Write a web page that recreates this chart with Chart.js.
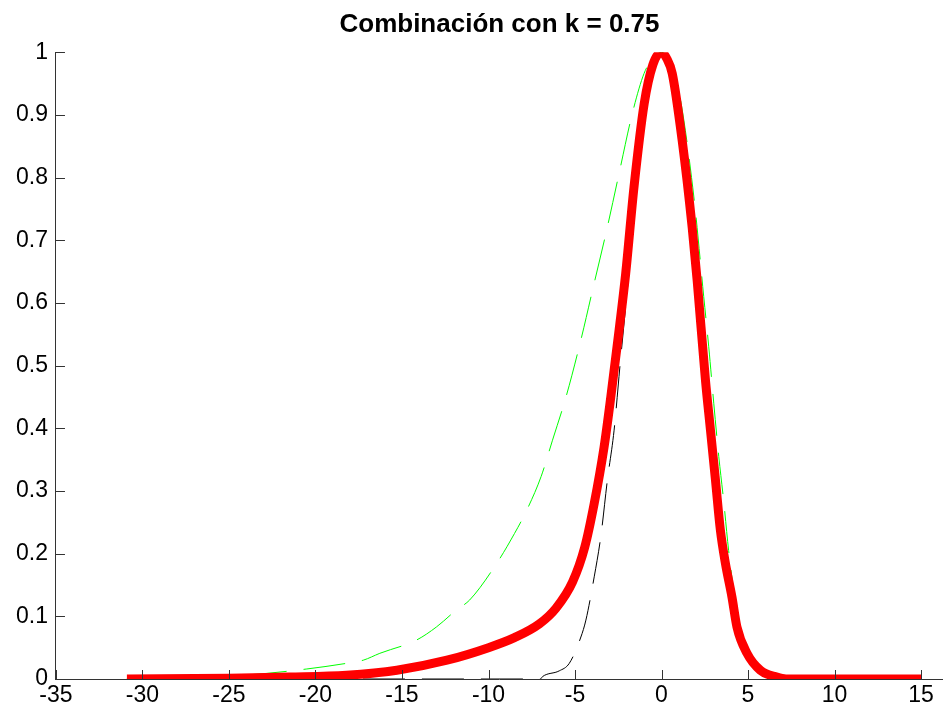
<!DOCTYPE html>
<html>
<head>
<meta charset="utf-8">
<script src="https://cdn.jsdelivr.net/npm/chart.js@4"></script>
<style>
  html, body { margin: 0; padding: 0; background: #fff; }
  #wrap { width: 943px; height: 712px; }
</style>
</head>
<body>
<div id="wrap"><canvas id="chart"></canvas></div>
<script>
// values
const redX = [-30.9, -25, -21.5, -18.2, -15.3, -12.4, -10, -8.5, -7.06, -6.1, -5.14, -4.44, -3.89, -3.32, -2.93, -2.45, -2.07, -1.59, -1.0, -0.5, 0, 0.3, 0.62, 1.19, 1.77, 2.06, 2.54, 2.83, 3.12, 3.4, 3.69, 4.07, 4.36, 4.94, 5.71, 6.67, 7.2, 15];
const redY = [0, 0.001, 0.003, 0.006, 0.014, 0.03, 0.05, 0.066, 0.088, 0.113, 0.155, 0.21, 0.28, 0.37, 0.45, 0.557, 0.647, 0.785, 0.918, 0.98, 1, 0.99, 0.966, 0.86, 0.721, 0.636, 0.477, 0.397, 0.317, 0.238, 0.185, 0.131, 0.083, 0.041, 0.014, 0.003, 0, 0];

const greenX = [-30.9, -27, -24.15, -22.8, -20.5, -18.2, -17.24, -16.28, -14.17, -13.01, -11.86, -11.09, -9.56, -8.5, -7.83, -6.96, -6.3, -5.52, -4.66, -3.99, -3.13, -2.45, -1.69, -1.01, -0.5, 0, 0.5, 1.0, 1.87, 2.44, 2.73, 3.02, 3.31, 3.59, 3.88, 4.35, 5.1, 5.45, 6.0, 7, 15];
const greenY = [0, 0.002, 0.006, 0.009, 0.016, 0.025, 0.03, 0.041, 0.062, 0.083, 0.11, 0.126, 0.183, 0.232, 0.267, 0.323, 0.381, 0.45, 0.541, 0.62, 0.721, 0.807, 0.902, 0.966, 0.99, 1, 0.985, 0.939, 0.769, 0.61, 0.53, 0.44, 0.355, 0.285, 0.205, 0.11, 0.036, 0.014, 0.004, 0, 0];

const blackX = [-30.9, -7, -6.87, -5.91, -5.33, -4.66, -4.37, -3.89, -3.51, -3.13, -2.74, -2.4, -1.98, -1.5, -1.0, -0.5, 0, 0.6, 1.15, 1.72, 2.0, 2.48, 2.78, 3.07, 3.35, 3.65, 4.02, 4.3, 4.9, 5.65, 6.6, 7.2, 15];
const blackY = [0, 0, 0.004, 0.013, 0.025, 0.067, 0.094, 0.163, 0.227, 0.317, 0.397, 0.5, 0.62, 0.76, 0.9, 0.975, 1, 0.96, 0.86, 0.72, 0.636, 0.477, 0.397, 0.317, 0.238, 0.185, 0.131, 0.083, 0.041, 0.014, 0.003, 0, 0];

const xTicks = [-35, -30, -25, -20, -15, -10, -5, 0, 5, 10, 15];
const titleText = 'Combinación con k = 0.75';

function pts(xs, ys) {
  return xs.map((x, i) => ({ x: x, y: ys[i] }));
}

// MATLAB style ticks pointing into the plot
const innerTicks = {
  id: 'innerTicks',
  afterDraw(chart) {
    const c = chart.ctx, a = chart.chartArea;
    const xs = chart.scales.x, ys = chart.scales.y;
    c.save();
    c.strokeStyle = '#333';
    c.lineWidth = 1;
    c.beginPath();
    xs.ticks.forEach(t => {
      const px = Math.round(xs.getPixelForValue(t.value)) + 0.5;
      c.moveTo(px, a.bottom);
      c.lineTo(px, a.bottom - 9);
    });
    ys.ticks.forEach(t => {
      const py = Math.round(ys.getPixelForValue(t.value)) + 0.5;
      c.moveTo(a.left, py);
      c.lineTo(a.left + 9, py);
    });
    c.stroke();
    c.restore();
  }
};

const ctx = document.getElementById('chart').getContext('2d');
new Chart(ctx, {
  type: 'line',
  data: {
    datasets: [{
      label: 'combinación',
      data: pts(redX, redY),
      borderColor: '#ff0000',
      borderWidth: 9,
      borderCapStyle: 'butt',
      order: 0
    }, {
      label: 'verde',
      data: pts(greenX, greenY),
      borderColor: '#00ff00',
      borderWidth: 1,
      borderDash: [42, 17],
      order: 1
    }, {
      label: 'negro',
      data: pts(blackX, blackY),
      borderColor: '#000000',
      borderWidth: 1,
      borderDash: [42, 17],
      order: 2
    }]
  },
  options: {
    responsive: true,
    maintainAspectRatio: false,
    animation: false,
    layout: { padding: { left: 8, right: 0, top: 0, bottom: 0 } },
    elements: {
      point: { radius: 0 },
      line: { cubicInterpolationMode: 'monotone', fill: false }
    },
    plugins: {
      legend: { display: false },
      tooltip: { enabled: false },
      title: {
        display: true,
        fullSize: false,
        text: titleText,
        color: '#000',
        font: { family: 'Liberation Sans', size: 26, weight: 'bold' },
        padding: { top: 9, bottom: 12 }
      }
    },
    scales: {
      x: {
        type: 'linear',
        min: -35,
        max: 16.27,
        afterBuildTicks: s => { s.ticks = xTicks.map(v => ({ value: v })); },
        ticks: {
          color: '#000',
          padding: 5,
          maxRotation: 0,
          font: { family: 'Liberation Sans', size: 23, lineHeight: 1 }
        },
        grid: { display: false, drawTicks: false },
        border: { display: true, color: '#333', width: 1 }
      },
      y: {
        min: 0,
        max: 1,
        ticks: {
          stepSize: 0.1,
          color: '#000',
          padding: 8,
          callback: v => String(+v.toFixed(1)),
          font: { family: 'Liberation Sans', size: 23 }
        },
        grid: { display: false, drawTicks: false },
        border: { display: true, color: '#333', width: 1 }
      }
    }
  },
  plugins: [innerTicks]
});
</script>
</body>
</html>
